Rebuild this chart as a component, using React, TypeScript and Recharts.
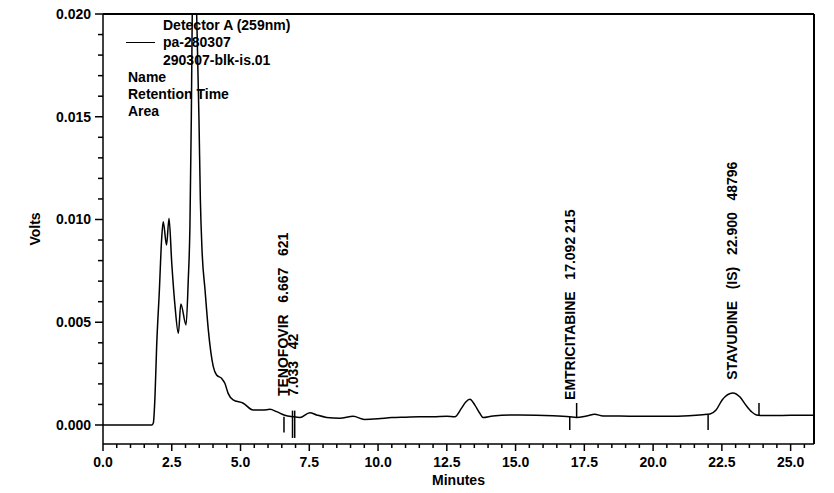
import React from 'react';
import { ComposedChart, Line, XAxis, YAxis, ReferenceLine, ReferenceDot } from 'recharts';

// Retention time (minutes) and detector signal (volts)
const minutes = [0, 1.77, 1.83, 1.89, 1.95, 2.05, 2.13, 2.19, 2.31, 2.40, 2.50, 2.62, 2.74, 2.83, 3.02, 3.10, 3.16, 3.21, 3.245, 3.32, 3.405, 3.49, 3.54, 3.60, 3.71, 3.83, 4.01, 4.13, 4.31, 4.43, 4.55, 4.73, 5.10, 5.46, 5.82, 6.07, 6.31, 6.58, 6.92, 7.16, 7.52, 7.77, 8.13, 8.61, 9.1, 9.5, 10.0, 10.5, 11.0, 11.5, 12.0, 12.5, 12.79, 13.03, 13.19, 13.34, 13.52, 13.70, 13.82, 14.18, 15.15, 16.36, 16.97, 17.21, 17.58, 17.88, 18.18, 18.79, 19.5, 20.5, 21.3, 21.8, 22.07, 22.29, 22.51, 22.9, 23.16, 23.37, 23.59, 23.76, 24.05, 25.0, 25.85];
const volts = [0, 0, 0.0001, 0.00138, 0.00381, 0.00657, 0.0090, 0.00989, 0.00876, 0.01006, 0.00787, 0.00576, 0.00446, 0.00589, 0.00487, 0.00706, 0.00963, 0.01484, 0.020, 0.025, 0.020, 0.01484, 0.01095, 0.00852, 0.00657, 0.00462, 0.00284, 0.00243, 0.00227, 0.00203, 0.00154, 0.00122, 0.00106, 0.00073, 0.00073, 0.00076, 0.00065, 0.00049, 0.0004, 0.00037, 0.0006, 0.00049, 0.00037, 0.00033, 0.00042, 0.00027, 0.0003, 0.00036, 0.00038, 0.0004, 0.0004, 0.00042, 0.0004, 0.00081, 0.00112, 0.00125, 0.00097, 0.00057, 0.00036, 0.00044, 0.00049, 0.00045, 0.0004, 0.00037, 0.00044, 0.00052, 0.00044, 0.00044, 0.00042, 0.00042, 0.00045, 0.0005, 0.00054, 0.00073, 0.00122, 0.00156, 0.00136, 0.00097, 0.00063, 0.00049, 0.00046, 0.00047, 0.00048];

const xDomain = [0, 25.85];
const yDomain = [-0.000925, 0.02];

const xTicks = [0, 0.5, 1, 1.5, 2, 2.5, 3, 3.5, 4, 4.5, 5, 5.5, 6, 6.5, 7, 7.5, 8, 8.5, 9, 9.5, 10, 10.5, 11, 11.5, 12, 12.5, 13, 13.5, 14, 14.5, 15, 15.5, 16, 16.5, 17, 17.5, 18, 18.5, 19, 19.5, 20, 20.5, 21, 21.5, 22, 22.5, 23, 23.5, 24, 24.5, 25, 25.5];
const xMajorLabels = ['0.0', '2.5', '5.0', '7.5', '10.0', '12.5', '15.0', '17.5', '20.0', '22.5', '25.0'];
const yTicks = [0, 0.001, 0.002, 0.003, 0.004, 0.005, 0.006, 0.007, 0.008, 0.009, 0.01, 0.011, 0.012, 0.013, 0.014, 0.015, 0.016, 0.017, 0.018, 0.019, 0.02];
const yMajorLabels = ['0.000', '0.005', '0.010', '0.015', '0.020'];

// Peak annotation text (anchor in data units: minutes, volts)
const peakLabelText = ['TENOFOVIR\u00A0\u00A0\u00A06.667\u00A0\u00A0\u00A0621', '7.033\u00A0\u00A0\u00A042', 'EMTRICITABINE\u00A0\u00A0\u00A017.092\u00A0215', 'STAVUDINE\u00A0\u00A0\u00A0(IS)\u00A0\u00A0\u00A022.900\u00A0\u00A0\u00A048796'];
const peakLabelMinutes = [6.72, 7.09, 17.16, 23.04];
const peakLabelVolts = [0.00141, 0.00141, 0.00122, 0.0022];

// Integration markers: minute, from volts, to volts
const markerMinutes = [6.58, 6.89, 6.97, 16.97, 17.22, 22.0, 23.85];
const markerFrom = [0.0004, 0.0007, 0.0007, 0.00039, 0.00107, 0.00049, 0.00107];
const markerTo = [-0.00037, -0.00063, -0.00063, -0.00024, 0.00039, -0.00024, 0.00049];

const legendLines = ['Detector A (259nm)', 'pa-280307', '290307-blk-is.01'];
const legendFields = ['Name', 'Retention Time', 'Area'];

const data = minutes.map((t, i) => ({ t, v: volts[i] }));

const FONT = '"Liberation Sans", Arial, Helvetica, sans-serif';

const isMultiple = (v: number, step: number) => Math.abs(v / step - Math.round(v / step)) < 1e-6;

const XTick = (props: any) => {
  const { x, y, payload } = props;
  const v = payload.value as number;
  const major = isMultiple(v, 2.5);
  const label = major ? xMajorLabels[Math.round(v / 2.5)] : null;
  return (
    <g>
      <line x1={x} x2={x} y1={y} y2={y + (major ? 7 : 4)} stroke="#000" strokeWidth={1.5} />
      {label && (
        <text x={x} y={y + 18} textAnchor="middle" dominantBaseline="central" fontFamily={FONT} fontWeight="bold" fontSize={14} fill="#000">
          {label}
        </text>
      )}
    </g>
  );
};

const YTick = (props: any) => {
  const { x, y, payload } = props;
  const v = payload.value as number;
  const major = isMultiple(v, 0.005);
  const label = major ? yMajorLabels[Math.round(v / 0.005)] : null;
  return (
    <g>
      <line x1={x - (major ? 8 : 5)} x2={x} y1={y} y2={y} stroke="#000" strokeWidth={1.5} />
      {label && (
        <text x={x - 12} y={y} textAnchor="end" dominantBaseline="central" fontFamily={FONT} fontWeight="bold" fontSize={14} fill="#000">
          {label}
        </text>
      )}
    </g>
  );
};

const YTitle = (props: any) => {
  const vb = props.viewBox || {};
  const cx = (vb.x ?? 0) + 35;
  const cy = (vb.y ?? 0) + (vb.height ?? 0) / 2;
  return (
    <text x={cx} y={cy} transform={`rotate(-90 ${cx} ${cy})`} textAnchor="middle" dominantBaseline="central" fontFamily={FONT} fontWeight="bold" fontSize={14} fill="#000">
      Volts
    </text>
  );
};

const XTitle = (props: any) => {
  const vb = props.viewBox || {};
  const cx = (vb.x ?? 0) + (vb.width ?? 0) / 2;
  const cy = (vb.y ?? 0) + 36;
  return (
    <text x={cx} y={cy} textAnchor="middle" dominantBaseline="central" fontFamily={FONT} fontWeight="bold" fontSize={14} fill="#000">
      Minutes
    </text>
  );
};

const makePeakLabel = (text: string) => (props: any) => {
  const vb = props.viewBox || {};
  const cx = (vb.x ?? 0) + (vb.width ?? 0) / 2;
  const cy = (vb.y ?? 0) + (vb.height ?? 0) / 2;
  return (
    <text x={cx} y={cy} transform={`rotate(-90 ${cx} ${cy})`} textAnchor="start" fontFamily={FONT} fontWeight="bold" fontSize={14} fill="#000">
      {text}
    </text>
  );
};

const textStyle: React.CSSProperties = {
  position: 'absolute',
  fontFamily: FONT,
  fontWeight: 'bold',
  fontSize: 14,
  lineHeight: '16px',
  whiteSpace: 'nowrap',
  color: '#000',
};

export default function App() {
  return (
    <div style={{ position: 'relative', width: 834, height: 493, margin: -8, overflow: 'hidden' }}>
      <ComposedChart width={834} height={493} data={data} margin={{ top: 14, right: 20, bottom: 0, left: 0 }}>
        <XAxis
          type="number"
          dataKey="t"
          domain={xDomain}
          allowDataOverflow
          ticks={xTicks}
          interval={0}
          tickSize={0}
          tickMargin={0}
          tickLine={false}
          tick={<XTick />}
          height={49}
          axisLine={{ stroke: '#000', strokeWidth: 1.5 }}
          label={<XTitle />}
        />
        <YAxis
          type="number"
          domain={yDomain}
          allowDataOverflow
          ticks={yTicks}
          interval={0}
          tickSize={0}
          tickMargin={0}
          tickLine={false}
          tick={<YTick />}
          width={103}
          axisLine={{ stroke: '#000', strokeWidth: 1.5 }}
          label={<YTitle />}
        />
        <ReferenceLine y={yDomain[1]} stroke="#000" strokeWidth={2} />
        <ReferenceLine x={xDomain[1]} stroke="#000" strokeWidth={2} />
        {markerMinutes.map((m, i) => (
          <ReferenceLine
            key={'mk' + i}
            segment={[{ x: m, y: markerFrom[i] }, { x: m, y: markerTo[i] }]}
            stroke="#000"
            strokeWidth={1.5}
          />
        ))}
        <Line type="monotone" dataKey="v" stroke="#000" strokeWidth={1.5} dot={false} isAnimationActive={false} />
        {peakLabelText.map((txt, i) => (
          <ReferenceDot
            key={'pl' + i}
            x={peakLabelMinutes[i]}
            y={peakLabelVolts[i]}
            r={1}
            fill="none"
            stroke="none"
            label={makePeakLabel(txt)}
          />
        ))}
      </ComposedChart>
      {legendLines.map((s, i) => (
        <div key={'lg' + i} style={{ ...textStyle, left: 163, top: 17 + i * 17.4 }}>
          {s}
        </div>
      ))}
      <div style={{ position: 'absolute', left: 126, top: 41.5, width: 29, height: 0, borderTop: '1.5px solid #000' }} />
      {legendFields.map((s, i) => (
        <div key={'lf' + i} style={{ ...textStyle, left: 128, top: 69 + i * 16.8 }}>
          {s}
        </div>
      ))}
    </div>
  );
}
